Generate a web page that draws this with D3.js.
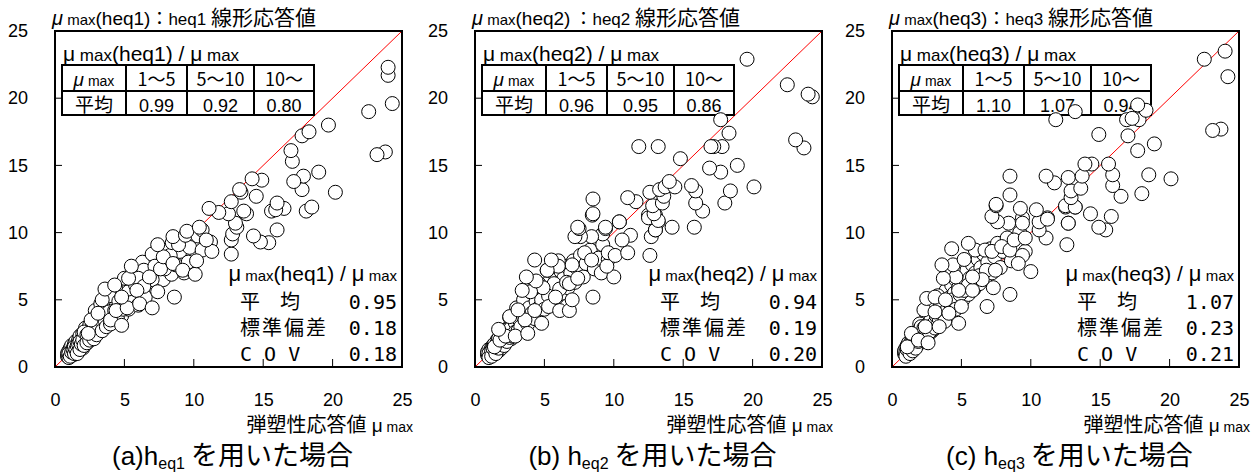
<!DOCTYPE html>
<html>
<head>
<meta charset="utf-8">
<script src="https://cdn.jsdelivr.net/npm/d3@7"></script>
<title>μmax(heq) vs 弾塑性応答値</title>
<style>
    body { margin: 0; background: #fff; }
    svg { font-family: "Liberation Sans", Arial, sans-serif; fill: #000; }
    .jp { font-family: "Noto Sans CJK JP", sans-serif; }
    .mono { font-family: "DejaVu Sans Mono", monospace; }
    .it { font-style: italic; }
    .dot { fill: #fff; stroke: #000; stroke-width: 1; }
</style>
</head>
<body>
<svg id="chart" width="1258" height="474"></svg>
<script>

// ---- data ----
var panelTags = ["heq1", "heq2", "heq3"];
var captionLetters = ["(a)", "(b) ", "(c) "];
var captionSubs = ["eq1", "eq2", "eq3"];
var rangeLabels = ["1～5", "5～10", "10～"];
var tableMeans = [["0.99", "0.92", "0.80"], ["0.96", "0.95", "0.86"], ["1.10", "1.07", "0.94"]];
var statLabels = ["平　均", "標準偏差", "C O V"];
var statMean = ["0.95", "0.94", "1.07"];
var statSd = ["0.18", "0.19", "0.23"];
var statCov = ["0.18", "0.20", "0.21"];
var tickLabels = [0, 5, 10, 15, 20, 25];
var innerTicks = [5, 10, 15, 20];

var heq1Points = [
  [0.9,0.8],[0.9,1.0],[1.0,0.9],[1.0,1.2],[1.0,0.7],[1.1,1.0],[1.1,1.4],[1.2,0.9],[1.2,1.2],[1.2,1.6],
  [1.3,1.1],[1.3,1.4],[1.3,0.9],[1.4,1.3],[1.4,1.7],[1.5,1.1],[1.5,1.5],[1.5,1.9],[1.6,1.3],[1.6,1.7],
  [1.7,1.5],[1.7,2.0],[1.7,1.2],[1.8,1.7],[1.8,2.3],[1.9,1.5],[1.9,2.0],[2.0,1.8],[2.0,2.5],[2.0,1.4],
  [2.1,2.1],[2.2,1.7],[2.2,2.4],[2.2,2.9],[2.3,2.0],[2.4,2.6],[2.4,1.9],[2.5,2.3],[2.5,3.1],[2.6,2.8],
  [2.7,2.2],[2.7,3.3],[2.8,2.6],[2.9,3.0],[2.9,2.3],[3.0,3.5],[3.1,2.8],[3.1,3.9],[3.2,3.2],[3.3,2.7],
  [3.3,3.6],[3.4,4.2],[3.5,3.0],[3.5,3.4],[3.6,3.9],[3.7,4.5],[3.8,3.3],[3.8,4.0],[3.9,3.6],[4.0,4.4],
  [4.1,3.4],[4.2,4.0],[4.2,4.8],[4.3,3.7],[4.4,4.5],[4.5,5.3],[4.6,4.1],[4.7,4.8],[4.8,3.8],[4.9,5.5],
  [5.0,4.5],[5.1,5.0],[5.2,5.9],[5.3,4.3],[5.4,5.3],[5.5,6.2],[5.6,4.9],[5.7,5.6],[5.8,6.6],[6.0,5.3],
  [6.1,6.0],[6.2,6.9],[6.3,5.5],[6.5,6.4],[6.6,7.2],[6.7,5.8],[6.9,6.7],[7.0,7.6],[7.2,6.2],[7.4,7.0],
  [7.6,7.9],[7.8,6.5],[8.0,7.4],[8.2,8.2],[8.4,6.9],[8.7,7.6],[9.0,8.6],[9.3,7.0],[9.7,8.9],[5.0,6.6],
  [4.4,5.8],[3.9,5.3],[5.6,7.0],[6.3,7.8],[7.0,8.4],[2.9,4.2],[3.3,4.7],
  [1.0,1.0],[1.1,0.8],[1.2,1.1],[1.3,1.3],[1.4,1.0],[1.4,1.5],[1.5,1.3],[1.6,1.6],[1.6,1.0],[1.7,1.7],
  [1.8,1.3],[1.8,1.9],[1.9,1.7],[2.0,2.0],[2.1,1.6],[2.1,2.6],[2.3,2.4],[2.3,1.8],[2.5,2.0],[2.6,2.5],
  [2.8,2.9],[2.8,2.1],[3.0,2.4],[3.0,3.1],[3.2,3.6],[3.4,2.7],[3.6,3.5],[3.7,3.0],[3.9,4.1],[4.0,3.2],
  [4.3,4.2],[4.5,3.6],[4.6,4.9],[4.9,4.3],[5.3,5.6],[5.5,4.8],[5.9,6.3],[6.2,5.7],[6.8,6.0],[7.1,7.2],
  [2.4,2.5],[2.6,3.5],[4.0,3.5],[4.8,3.1],[3.1,4.0],[3.4,5.0],[4.4,4.2],[6.0,4.6],[6.5,5.2],
  [5.8,6.1],[6.4,7.2],[7.2,7.5],[7.9,7.3],[6.0,6.6],[7.0,6.5],[10.6,8.7],[11.2,9.3],[9.5,7.3],[7.9,8.1],
  [8.3,8.3],[8.45,9.25],[6.4,6.0],[5.9,5.7],[5.2,4.4],[4.8,5.2],[3.6,5.8],[4.3,6.1],[6.1,4.7],[7.0,4.4],
  [7.4,5.6],[6.8,6.7],[7.6,7.3],[5.3,6.6],[5.5,7.5],[7.8,8.2],[8.5,7.7],[8.6,5.2],[9.6,7.8],[9.2,7.2],
  [10.1,6.9],[10.2,7.9],[7.4,9.1],[8.9,9.1],[8.5,9.7],[9.4,9.8],[10.3,9.75],[10.6,10.2],[11.3,8.6],[10.9,9.45],
  [16.0,10.2],[15.4,9.25],[14.8,9.3],[14.3,9.75],[12.7,8.4],[12.7,9.45],[12.8,9.9],[9.5,10.1],[10.4,10.4],[13.1,10.4],
  [13.0,10.7],[13.8,11.4],[13.6,11.6],[12.5,11.4],[11.8,11.5],[11.1,11.8],[18.1,11.6],[18.5,11.9],[16.5,11.8],[15.6,11.6],
  [15.9,11.7],[16.0,12.2],[12.7,12.3],[14.5,12.7],[13.4,13.0],[13.3,13.2],[14.9,13.9],[14.2,14.0],[20.2,13.0],[17.8,13.2],
  [17.9,14.2],[17.2,13.8],[19.0,14.5],[23.8,16.0],[23.2,15.8],[17.1,15.3],[17.0,16.1],[17.8,17.2],[18.3,17.5],[19.7,18.0],
  [22.6,19.0],[24.3,19.6],[24.0,21.7],[24.0,22.3]
];

var heq2Points = [
  [0.9,0.9],[0.9,1.1],[1.0,0.8],[1.0,1.3],[1.1,1.0],[1.1,1.2],[1.1,0.8],[1.2,1.4],[1.2,1.0],[1.3,1.2],
  [1.3,1.6],[1.3,0.9],[1.4,1.4],[1.4,1.1],[1.5,1.7],[1.5,1.3],[1.6,1.5],[1.6,2.0],[1.7,1.2],[1.7,1.8],
  [1.8,1.5],[1.8,2.2],[1.9,1.9],[1.9,1.4],[2.0,2.3],[2.0,1.7],[2.1,2.0],[2.2,2.6],[2.2,1.8],[2.3,2.2],
  [2.4,2.9],[2.4,2.0],[2.5,2.5],[2.6,3.2],[2.6,2.1],[2.7,2.7],[2.8,2.4],[2.8,3.5],[2.9,3.0],[3.0,2.5],
  [3.1,3.3],[3.1,3.9],[3.2,2.8],[3.3,3.6],[3.4,3.1],[3.4,4.3],[3.5,3.7],[3.6,3.2],[3.7,4.1],[3.8,4.8],
  [3.9,3.5],[4.0,4.3],[4.1,3.8],[4.2,5.1],[4.3,4.6],[4.4,3.9],[4.5,5.5],[4.6,4.8],[4.7,4.2],[4.9,5.3],
  [5.0,6.0],[5.1,4.6],[5.2,5.6],[5.4,6.4],[5.5,4.9],[5.6,5.8],[5.8,6.8],[5.9,5.2],[6.0,6.2],[6.2,7.1],
  [6.3,5.5],[6.4,6.6],[6.6,7.5],[6.7,5.9],[6.9,7.0],[7.1,7.9],[7.2,6.3],[7.4,7.3],[7.6,8.3],[7.8,6.7],
  [8.0,7.7],[8.3,8.7],[8.6,7.3],[8.9,8.1],[9.2,9.1],[9.6,8.0],[3.0,4.4],[3.5,5.0],[4.0,5.6],[4.6,6.2],
  [2.5,3.7],[5.2,7.2],[6.0,7.9],
  [1.0,1.0],[1.0,0.7],[1.2,1.2],[1.2,0.8],[1.3,1.4],[1.4,1.7],[1.5,1.0],[1.5,1.5],[1.6,1.8],[1.7,1.4],
  [1.7,2.1],[1.8,1.7],[1.9,2.4],[2.0,2.0],[2.1,1.6],[2.1,2.7],[2.3,2.5],[2.3,1.9],[2.5,2.2],[2.6,2.9],
  [2.7,2.3],[2.9,3.3],[2.9,2.6],[3.1,2.7],[3.2,3.5],[3.3,3.0],[3.5,4.1],[3.6,3.5],[3.8,3.2],[3.9,4.4],
  [4.1,4.0],[4.3,3.6],[4.4,4.9],[4.6,4.4],[4.8,5.0],[5.0,4.3],[5.3,5.3],[5.7,6.2],[6.1,5.8],[6.6,6.3],
  [1.4,1.5],[1.8,2.0],[2.2,2.3],[2.9,2.3],[1.7,2.8],[2.5,3.75],[3.6,3.5],[4.8,3.25],[3.8,2.5],[3.1,4.25],
  [4.3,4.2],[5.3,4.5],[6.1,4.2],[6.8,4.2],[7.0,5.0],[5.8,5.2],[4.9,5.9],[4.0,5.6],[3.4,5.7],[4.4,6.4],
  [3.7,6.7],[6.8,6.2],[7.4,6.6],[7.0,7.6],[6.0,7.5],[5.2,7.2],[5.5,7.96],[4.3,7.96],[8.5,5.2],[7.9,8.5],
  [8.4,7.96],[9.1,7.0],[10.0,6.7],[9.5,7.5],[9.6,8.5],[10.1,8.3],[11.0,8.5],[12.6,8.3],[12.7,9.7],[13.0,10.2],
  [13.2,10.8],[13.0,11.3],[12.5,11.3],[11.2,9.8],[10.6,9.45],[10.4,10.8],[9.2,9.9],[9.4,10.3],[8.4,9.7],[7.6,9.7],
  [7.2,9.7],[7.5,10.3],[8.45,11.3],[15.8,10.4],[14.2,10.4],[13.0,10.2],[7.4,10.4],[9.4,10.4],[10.4,10.8],[8.5,11.4],
  [8.5,12.5],[11.6,12.3],[11.0,12.6],[12.5,11.1],[13.2,10.9],[12.9,11.4],[12.8,12.0],[12.6,13.0],[13.5,12.2],[13.6,12.7],
  [13.3,13.2],[13.7,13.4],[14.4,13.4],[14.0,13.8],[16.4,11.6],[15.9,12.2],[15.9,13.1],[15.6,13.5],[18.0,12.2],[18.4,13.1],
  [20.1,13.4],[18.9,15.0],[17.7,14.5],[16.9,14.8],[14.8,15.5],[13.2,16.4],[11.8,16.4],[23.7,16.3],[23.1,16.9],[17.8,16.4],
  [17.2,16.4],[17.0,16.4],[18.3,17.4],[17.7,18.4],[24.3,20.1],[24.0,20.3],[22.5,21.0],[19.6,22.9]
];

var heq3Points = [
  [0.9,1.0],[0.9,1.2],[1.0,0.9],[1.0,1.4],[1.1,1.1],[1.1,1.6],[1.2,1.0],[1.2,1.3],[1.2,1.8],[1.3,1.2],
  [1.3,1.5],[1.4,1.9],[1.4,1.3],[1.5,1.6],[1.5,2.1],[1.6,1.4],[1.6,1.8],[1.7,2.3],[1.7,1.6],[1.8,2.0],
  [1.8,2.6],[1.9,1.7],[1.9,2.2],[2.0,2.8],[2.0,1.9],[2.1,2.4],[2.2,3.0],[2.2,2.0],[2.3,2.6],[2.4,3.3],
  [2.4,2.2],[2.5,2.8],[2.6,3.6],[2.6,2.4],[2.7,3.1],[2.8,3.9],[2.8,2.6],[2.9,3.3],[3.0,4.2],[3.0,2.8],
  [3.1,3.6],[3.2,4.6],[3.2,3.0],[3.3,3.9],[3.4,5.0],[3.4,3.2],[3.5,4.2],[3.6,3.4],[3.6,5.3],[3.7,4.5],
  [3.8,3.7],[3.9,5.7],[4.0,4.8],[4.1,3.9],[4.2,5.2],[4.3,6.1],[4.4,4.3],[4.5,5.5],[4.6,6.5],[4.7,4.6],
  [4.8,5.9],[5.0,6.9],[5.1,5.0],[5.2,6.2],[5.4,7.2],[5.5,5.4],[5.6,6.6],[5.8,7.6],[5.9,5.8],[6.0,7.0],
  [6.2,8.0],[6.3,6.2],[6.4,7.4],[6.6,8.4],[6.7,6.6],[6.9,7.8],[7.1,8.8],[7.2,7.0],[7.4,8.2],[7.6,9.2],
  [7.8,7.4],[8.0,8.6],[8.3,9.6],[8.6,7.9],[8.9,9.0],[9.2,10.0],[9.6,8.6],[2.5,3.9],[2.9,4.5],[3.3,5.3],
  [2.0,3.2],[1.5,2.5],
  [1.0,1.1],[1.0,0.8],[1.1,1.3],[1.2,1.5],[1.3,1.0],[1.3,1.7],[1.4,1.5],[1.5,1.2],[1.5,1.8],[1.6,2.1],
  [1.7,1.8],[1.7,1.4],[1.8,2.3],[1.9,1.9],[2.0,2.4],[2.1,2.1],[2.1,3.0],[2.3,2.3],[2.3,2.9],[2.5,2.5],
  [2.6,3.2],[2.7,2.6],[2.8,3.5],[3.0,3.2],[3.1,2.9],[3.2,3.8],[3.4,3.6],[3.5,4.6],[3.7,4.0],[3.8,3.4],
  [4.0,4.3],[4.2,4.7],[4.4,5.0],[4.6,4.3],[4.9,5.4],[5.2,5.7],[5.5,6.1],[5.9,6.6],[6.3,6.8],[6.8,7.2],
  [1.1,1.5],[1.4,2.5],[1.9,2.0],[2.6,1.8],[2.4,3.0],[3.4,3.0],[4.8,3.25],[2.3,4.25],[3.1,4.1],[4.1,4.0],
  [5.0,4.5],[2.5,5.1],[3.1,5.2],[3.85,5.0],[4.8,5.7],[5.8,5.7],[6.85,4.5],[7.3,5.9],[6.5,6.5],[5.8,6.7],
  [4.6,6.7],[3.7,6.6],[4.4,7.6],[3.6,7.6],[5.2,8.0],[6.0,8.7],[6.7,8.7],[5.5,9.2],[4.3,8.8],[8.5,5.4],
  [7.45,7.2],[7.2,8.6],[7.9,8.96],[8.5,8.7],[9.4,8.3],[9.1,7.7],[10.0,7.1],[12.6,9.1],[8.8,9.45],[9.6,9.6],
  [11.1,9.6],[10.6,10.2],[12.7,10.7],[13.2,11.9],[12.5,11.9],[11.2,11.1],[10.6,10.8],[10.4,11.7],[9.4,11.1],[9.25,11.8],
  [8.4,10.7],[7.6,10.8],[7.2,11.2],[7.5,12.0],[15.4,10.2],[14.9,10.4],[12.7,10.7],[15.8,11.2],[14.3,11.4],[11.2,11.0],
  [9.4,10.7],[8.5,12.8],[7.5,12.1],[8.5,14.2],[11.7,13.7],[11.1,14.2],[12.5,12.0],[13.2,11.9],[12.9,12.6],[12.9,13.1],
  [13.6,13.3],[12.7,14.1],[13.7,14.2],[16.5,12.7],[15.9,13.5],[15.9,14.3],[15.6,15.1],[14.4,15.1],[13.9,15.1],[18.0,12.9],
  [18.5,14.3],[20.1,14.0],[17.7,16.1],[18.9,16.6],[17.0,17.2],[14.9,17.3],[11.8,18.4],[13.2,19.0],[17.8,18.4],[16.9,18.4],
  [17.3,18.5],[18.3,19.1],[17.7,19.5],[23.7,17.7],[23.1,17.6],[24.2,21.6],[22.5,22.9],[24.0,23.5]
];

var allPoints = [heq1Points, heq2Points, heq3Points];

// ---- layout ----
var svg = d3.select("#chart");
var panelLeft = [55, 475, 892];
var plotTop = 31, plotW = 347, plotH = 336;

var x = d3.scaleLinear().domain([0, 25]).range([0, plotW]);
var y = d3.scaleLinear().domain([0, 25]).range([plotH, 0]);

// text made of pieces: [string, size, class, dy]
function richText(g, px, py, parts, anchor) {
    var t = g.append("text")
        .attr("x", px)
        .attr("y", py)
        .attr("text-anchor", anchor || "start");
    parts.forEach(function (p) {
        var s = t.append("tspan").text(p[0]).style("font-size", p[1] + "px");
        if (p[2]) s.attr("class", p[2]);
        if (p[3]) s.attr("dy", p[3]);
    });
    return t;
}

panelTags.forEach(function (tag, i) {
    var g = svg.append("g").attr("transform", "translate(" + panelLeft[i] + "," + plotTop + ")");

    g.append("rect").attr("width", plotW).attr("height", plotH).attr("fill", "#fff");

    // 1:1 line
    g.append("line")
        .attr("x1", x(0)).attr("y1", y(0))
        .attr("x2", x(25)).attr("y2", y(25))
        .attr("stroke", "#ff0000").attr("stroke-width", 1);

    // small table of means
    var tb = g.append("g").attr("transform", "translate(7,0)");
    var colX = [0, 64, 125, 192, 252];
    richText(tb, 1, 30, [["μ", 21], [" max", 17], ["(" + tag + ")", 21], [" / ", 21], ["μ", 21], [" max", 17]]);
    tb.append("rect").attr("x", 0).attr("y", 34).attr("width", colX[4]).attr("height", 50)
        .attr("fill", "#fff").attr("stroke", "#000").attr("stroke-width", 2);
    tb.append("line").attr("x1", 0).attr("x2", colX[4]).attr("y1", 60).attr("y2", 60)
        .attr("stroke", "#000").attr("stroke-width", 2);
    [1, 2, 3].forEach(function (c) {
        tb.append("line").attr("x1", colX[c]).attr("x2", colX[c]).attr("y1", 34).attr("y2", 85)
            .attr("stroke", "#000").attr("stroke-width", 2);
    });
    richText(tb, (colX[0] + colX[1]) / 2, 55, [["μ", 19, "it"], [" max", 14]], "middle");
    richText(tb, (colX[0] + colX[1]) / 2, 81, [["平均", 19, "jp"]], "middle");
    rangeLabels.forEach(function (lab, c) {
        var cx = (colX[c + 1] + colX[c + 2]) / 2;
        richText(tb, cx, 55, [[lab, 18, "jp"]], "middle");
        richText(tb, cx, 81, [[tableMeans[i][c], 18]], "middle");
    });

    // points
    g.selectAll("circle.dot")
        .data(allPoints[i])
        .enter().append("circle")
        .attr("class", "dot")
        .attr("cx", function (d) { return x(d[0]); })
        .attr("cy", function (d) { return y(d[1]); })
        .attr("r", 7);

    // stats block
    var sx = 185, vx = 342;
    richText(g, vx, 250, [["μ", 22], [" max", 15], ["(" + tag + ")", 21], [" / ", 21], ["μ", 22], [" max", 15]], "end");
    var vals = [statMean[i], statSd[i], statCov[i]];
    statLabels.forEach(function (lab, r) {
        var yy = 278 + r * 26;
        if (r === 2) {
            richText(g, sx, yy, [[lab, 20, "mono"]]);
        } else {
            richText(g, sx, yy, [[lab, 20, "jp"]]).style("letter-spacing", r === 1 ? "2px" : "0px");
        }
        richText(g, vx, yy, [[vals[r], 20, "mono"]], "end");
    });

    // frame
    g.append("rect").attr("width", plotW).attr("height", plotH)
        .attr("fill", "none").attr("stroke", "#000").attr("stroke-width", 2);

    // inward ticks
    g.selectAll("line.ytick").data(innerTicks).enter().append("line")
        .attr("x1", 0).attr("x2", 7)
        .attr("y1", function (d) { return y(d); }).attr("y2", function (d) { return y(d); })
        .attr("stroke", "#000").attr("stroke-width", 1);
    g.selectAll("line.xtick").data(innerTicks).enter().append("line")
        .attr("y1", plotH).attr("y2", plotH - 8)
        .attr("x1", function (d) { return x(d); }).attr("x2", function (d) { return x(d); })
        .attr("stroke", "#000").attr("stroke-width", 1);

    // tick labels through d3 axes
    var xAxis = g.append("g").attr("transform", "translate(0," + plotH + ")")
        .call(d3.axisBottom(x).tickValues(tickLabels).tickSize(0).tickPadding(26).tickFormat(d3.format("d")));
    var yAxis = g.append("g")
        .call(d3.axisLeft(y).tickValues(tickLabels).tickSize(0).tickPadding(27).tickFormat(d3.format("d")));
    [xAxis, yAxis].forEach(function (ax) {
        ax.select(".domain").remove();
        ax.selectAll("text")
            .style("font-family", "'Liberation Sans', Arial, sans-serif")
            .style("font-size", "18px")
            .attr("fill", "#000");
    });

    // top title
    richText(g, -3, -6, [["μ", 20, "it"], [" max", 15], ["(" + tag + ")", 19], [i === 1 ? " ：" : "：", 18, "jp"],
        [tag, 17], [" 線形応答値", 21, "jp"]]);

    // x title
    richText(g, plotW + 11, 401, [["弾塑性応答値", 20, "jp"], [" μ", 19], [" max", 14]], "end");

    // caption
    richText(g, plotW / 2 + 4, 434, [[captionLetters[i] + "h", 26], [captionSubs[i], 16, null, 4],
        [" を用いた場合", 27, "jp", -4]], "middle");
});

</script>
</body>
</html>
